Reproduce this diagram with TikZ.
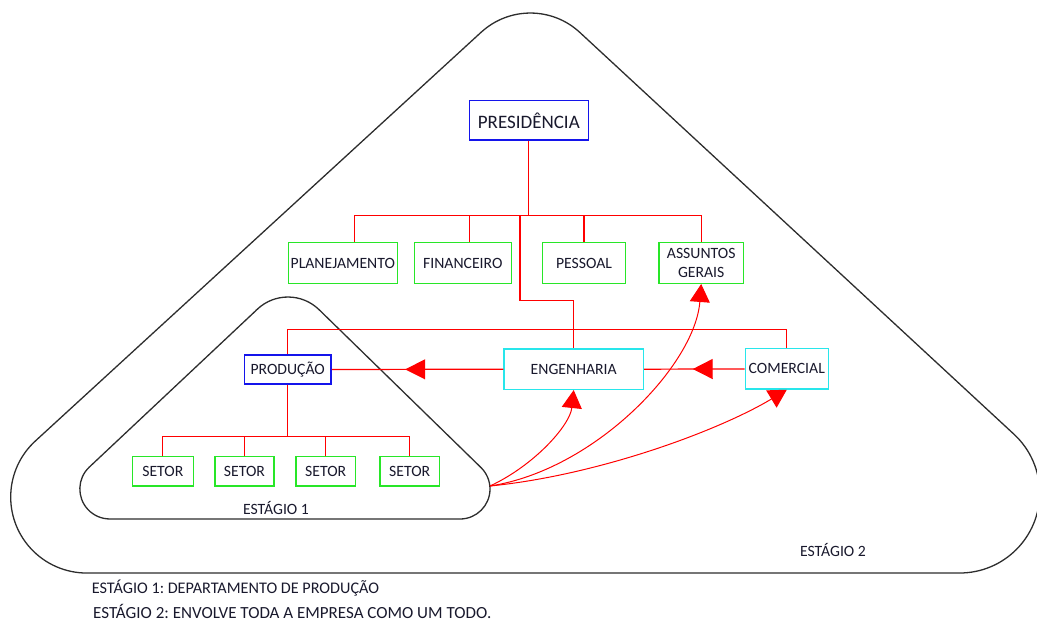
\documentclass[tikz,border=0pt]{standalone}
\usepackage{fontspec}
\setmainfont{Carlito}
\usetikzlibrary{arrows.meta,decorations.markings}

\definecolor{wirered}{RGB}{255,0,0}
\definecolor{boxgreen}{RGB}{40,230,40}
\definecolor{boxblue}{RGB}{20,20,235}
\definecolor{boxcyan}{RGB}{40,230,235}
\definecolor{outline}{RGB}{45,45,45}
\definecolor{ink}{RGB}{25,25,45}

\begin{document}
\frenchspacing
\begin{tikzpicture}[x=1pt,y=-1pt,
  font=\fontsize{15.7}{18}\selectfont, text=ink,
  unitbox/.style={draw, line width=1.4pt, fill=white, inner sep=0pt, align=center},
  gbox/.style={unitbox, draw=boxgreen},
  bbox/.style={unitbox, draw=boxblue},
  cbox/.style={unitbox, draw=boxcyan},
  wire/.style={draw=wirered, line width=1.2pt},
  curvearrow/.style={draw=wirered, line width=1pt, -{Triangle[length=18pt,width=20pt]}},
  midarrow/.style={wire, postaction={decorate},
    decoration={markings, mark=at position #1 with {\arrow[wirered]{Triangle[length=20pt,width=20pt]}}}},
  stage/.style={draw=outline, line width=1.3pt},
]
\useasboundingbox (0,0) rectangle (1037,623);

% ---- stage 2: the whole company (large rounded triangle, circular corners)
\draw[stage] (481.3,32.1) -- (35.35,441)
  arc[start angle=227.5, end angle=90, radius=76] -- (959.7,573)
  arc[start angle=90, end angle=-47.2, radius=80] -- (579.8,32.4)
  arc[start angle=312.8, end angle=227.5, radius=72.7] -- cycle;

% ---- stage 1: production department (small rounded triangle)
\draw[stage] (257.5,309.1) -- (89.3,467.1)
  arc[start angle=226.8, end angle=90, radius=30] -- (460,519)
  arc[start angle=90, end angle=-45.7, radius=30] -- (319.1,309.7)
  arc[start angle=314.3, end angle=226.8, radius=44.6] -- cycle;
\coordinate (o) at (490,486);

% ---- boxes
\node[bbox, minimum width=119pt, minimum height=39.3pt, font=\fontsize{19}{22}\selectfont] (pres) at (528.8,120.3) {PRESIDÊNCIA};
\node[gbox, minimum width=109pt,  minimum height=40.6pt] (plan) at (342.8,263) {PLANEJAMENTO};
\node[gbox, minimum width=97pt,   minimum height=40.6pt] (fin)  at (462.8,263) {FINANCEIRO};
\node[gbox, minimum width=82.6pt, minimum height=40.6pt] (pess) at (584,263)   {PESSOAL};
\node[gbox, minimum width=84.3pt, minimum height=40.6pt, font=\fontsize{15.7}{18.3}\selectfont] (ag) at (701.2,263) {ASSUNTOS\\GERAIS};
\node[cbox, minimum width=139.3pt, minimum height=40.3pt] (eng) at (573.7,369.2) {ENGENHARIA};
\node[cbox, minimum width=83pt,    minimum height=40.3pt] (com) at (786.8,368.9) {COMERCIAL};
\node[bbox, minimum width=86.7pt,  minimum height=29pt]   (prod) at (287.7,369.5) {PRODUÇÃO};
\node[gbox, minimum width=61pt,   minimum height=29.3pt] (s1) at (162.8,471.4) {SETOR};
\node[gbox, minimum width=59pt,   minimum height=29.3pt] (s2) at (244.5,471.4) {SETOR};
\node[gbox, minimum width=59.3pt, minimum height=29.3pt] (s3) at (325.7,471.4) {SETOR};
\node[gbox, minimum width=59.3pt, minimum height=29.3pt] (s4) at (409.7,471.4) {SETOR};

% ---- hierarchy connectors
\coordinate (tb) at (528.8,215.7);
\draw[wire] (pres.south) -- (tb);
\draw[wire] ([xshift=12pt]plan.north) |- (ag.north |- tb) -- (ag.north);
\draw[wire] ([xshift=6.5pt]fin.north) -- ([xshift=6.5pt]fin.north |- tb);
\draw[wire] (pess.north) -- (pess.north |- tb);
\draw[wire] ([xshift=-8.8pt]tb) -- ++(0,85) -| (eng.north);
\draw[wire] (prod.north) -- ++(0,-25) -| (com.north);

\coordinate (sb) at (287.7,436.7);
\draw[wire] (prod.south) -- (sb);
\draw[wire] (s1.north) |- (s4.north |- sb) -- (s4.north);
\draw[wire] (s2.north) -- (s2.north |- sb);
\draw[wire] (s3.north) -- (s3.north |- sb);

% ---- flow between departments
\draw[midarrow=0.572] (eng.west) -- (prod.east);
\draw[midarrow=0.516] (com.west) -- (eng.east);

% ---- influence of stage 1 on the rest of the company
\draw[curvearrow] (o) .. controls (535,465) and (570,425) .. (eng.south);
\draw[curvearrow] (o) .. controls (595,470) and (695,365) .. (ag.south);
\draw[curvearrow] (o) .. controls (600,475) and (720,430) .. (com.south);

% ---- labels
\node (e1) at (276,508.3) {ESTÁGIO 1};
\node (e2) at (833,550) {ESTÁGIO 2};
\node[anchor=west, inner sep=0pt, font=\fontsize{16.2}{19}\selectfont] (n1) at (91.7,588) {ESTÁGIO 1: DEPARTAMENTO DE PRODUÇÃO};
\node[anchor=west, inner sep=0pt, font=\fontsize{17}{20}\selectfont] (n2) at (93,611) {ESTÁGIO 2: ENVOLVE TODA A EMPRESA COMO UM TODO.};
\end{tikzpicture}
\end{document}
